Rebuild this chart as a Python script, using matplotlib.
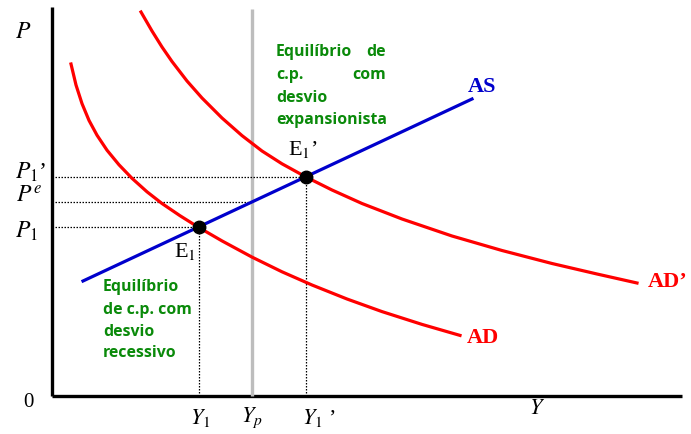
import matplotlib
matplotlib.use("Agg")
import matplotlib.pyplot as plt

plt.rcParams['mathtext.fontset'] = 'stix'

# ---- data (conceptual units: x = output Y, y = price level P) ----
as_x = [31, 420]
as_y = [115, 297]

ad_x = [19, 24, 30, 37, 45, 55, 67, 80, 95, 110, 128, 146, 170, 200, 230, 260, 295, 330, 370, 408]
ad_y = [332, 311, 292.4, 275.6, 260.8, 245.8, 231.2, 217.7, 204.2, 192.5, 180.3, 169,
        155.1, 138.9, 124.2, 111, 97, 84.4, 71.6, 60.6]

ad2_x = [89, 100, 110, 120, 135, 150, 170, 190, 210, 230, 254, 280, 310, 350, 400, 450, 500, 545, 585]
ad2_y = [384, 365, 349, 334.5, 315, 298, 278, 260.4, 245, 232.2, 219, 206, 192.5, 177, 160,
         145.5, 132.5, 122, 113]

e1 = (147, 169)
e1p = (254, 219)
yp = 200
pe = 194

RED = '#FF0000'
BLUE = '#0000CC'
GREEN = '#0A8A0A'

fig = plt.figure(figsize=(6.91, 4.35), dpi=100)
ax = fig.add_axes([0, 0, 1, 1])
ax.set_xlim(-52, 639)
ax.set_ylim(-38, 397)
ax.axis('off')

# axes
ax.plot([0, 0], [0, 389], color='black', lw=2.4, solid_capstyle='butt')
ax.plot([0, 630], [0, 0], color='black', lw=2.4, solid_capstyle='butt')

# potential output
ax.plot([yp, yp], [0, 387], color='#BDBDBD', lw=2.4, solid_capstyle='butt')

# dotted guides
dot = dict(color='black', lw=0.9, ls=(0, (1.2, 1.2)))
ax.plot([0, e1p[0]], [e1p[1], e1p[1]], **dot)
ax.plot([0, yp], [pe, pe], **dot)
ax.plot([0, e1[0]], [e1[1], e1[1]], **dot)
ax.plot([e1[0], e1[0]], [0, e1[1]], **dot)
ax.plot([e1p[0], e1p[0]], [0, e1p[1]], **dot)

# curves
ax.plot(ad_x, ad_y, color=RED, lw=2.3, solid_joinstyle='round')
ax.plot(ad2_x, ad2_y, color=RED, lw=2.3, solid_joinstyle='round')
ax.plot(as_x, as_y, color=BLUE, lw=2.3)

ax.plot(*e1, 'o', color='black', ms=9, zorder=5)
ax.plot(*e1p, 'o', color='black', ms=9, zorder=5)

serif = 'Liberation Serif'
# axis labels
ax.text(-29, 365, r'$P$', fontsize=17, ha='center', va='center', family=serif)
ax.text(485, -13, r'$Y$', fontsize=16, ha='center', va='center', family=serif)
ax.text(-24, -6, '0', fontsize=15, ha='center', va='center', family=serif)

ax.text(-37, 225, r'$P_1$’', fontsize=17, ha='left', va='center', family=serif)
ax.text(-36, 200, r'$P^e$', fontsize=17, ha='left', va='center', family=serif)
ax.text(-37, 166, r'$P_1$', fontsize=17, ha='left', va='center', family=serif)

ax.text(148, -21, r'$Y_1$', fontsize=16, ha='center', va='center', family=serif)
ax.text(200, -21, r'$Y_p$', fontsize=16, ha='center', va='center', family=serif)
ax.text(250, -21, r'$Y_1$ ’', fontsize=16, ha='left', va='center', family=serif)

ax.text(122, 146, r'E$_1$', fontsize=16, ha='left', va='center', family=serif)
ax.text(236, 248, r'E$_1$’', fontsize=16, ha='left', va='center', family=serif)

ax.text(416, 310, 'AS', fontsize=16, fontweight='bold', color=BLUE, ha='left', va='center', family=serif)
ax.text(415, 59, 'AD', fontsize=16, fontweight='bold', color=RED, ha='left', va='center', family=serif)
ax.text(596, 115, 'AD’', fontsize=16, fontweight='bold', color=RED, ha='left', va='center', family=serif)

# green annotations
gt = dict(fontsize=11.4, fontweight='bold', color=GREEN, va='center', family='Open Sans')
ax.text(224, 345, 'Equilíbrio', ha='left', **gt)
ax.text(334, 345, 'de', ha='right', **gt)
ax.text(224, 322, 'c.p.', ha='left', **gt)
ax.text(334, 322, 'com', ha='right', **gt)
ax.text(224, 299, 'desvio', ha='left', **gt)
ax.text(224, 277, 'expansionista', ha='left', **gt)

ax.text(51, 110, 'Equilíbrio', ha='left', **gt)
ax.text(51, 87, 'de c.p. com', ha='left', **gt)
ax.text(51, 65, 'desvio', ha='left', **gt)
ax.text(51, 44, 'recessivo', ha='left', **gt)

fig.savefig('out.png', dpi=100)
